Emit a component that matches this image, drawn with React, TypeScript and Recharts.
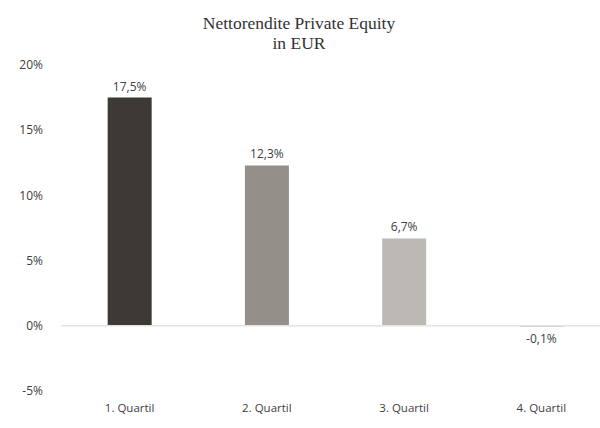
import React from 'react';
import { BarChart, Bar, XAxis, YAxis, Cell, LabelList, ReferenceLine } from 'recharts';

const categories = ['1. Quartil', '2. Quartil', '3. Quartil', '4. Quartil'];
const returns = [17.5, 12.3, 6.7, -0.1];
const barColors = ['#3d3935', '#958f8a', '#bcb8b4', '#c9c6c3'];
const yTicks = [-5, 0, 5, 10, 15, 20];
const titleLines = ['Nettorendite Private Equity', 'in EUR'];

const data = categories.map((c, i) => ({ name: c, value: returns[i] }));

const fmtLabel = (v: any) => `${Number(v).toFixed(1).replace('.', ',')}%`;
const fmtTick = (v: any) => `${v}%`;

export default function App() {
  return (
    <div style={{ position: 'absolute', left: 0, top: 0, width: 600, height: 428, background: '#fff' }}>
      <BarChart
        width={600}
        height={428}
        data={data}
        margin={{ top: 65, right: 0, bottom: 7, left: 0 }}
        barCategoryGap="34%"
      >
        <text x={299} y={29} textAnchor="middle" fontFamily="Liberation Serif, serif" fontSize={17.5} fill="#333333">
          {titleLines[0]}
        </text>
        <text x={299} y={49} textAnchor="middle" fontFamily="Liberation Serif, serif" fontSize={17.5} fill="#333333">
          {titleLines[1]}
        </text>
        <XAxis
          dataKey="name"
          height={30}
          axisLine={false}
          tickLine={false}
          tickSize={0}
          tickMargin={13}
          padding={{ left: 0, right: -10 }}
          tick={{ fontFamily: 'Open Sans', fontSize: 11.5, fill: '#404040' }}
          interval={0}
        />
        <YAxis
          width={61}
          domain={[-5, 20]}
          ticks={yTicks}
          axisLine={false}
          tickLine={false}
          tickSize={0}
          tickMargin={18}
          tickFormatter={fmtTick}
          tick={{ fontFamily: 'Open Sans', fontSize: 12, fill: '#404040' }}
          interval={0}
        />
        <ReferenceLine y={0} stroke="#e3e3e3" strokeWidth={1.5} />
        <Bar dataKey="value" isAnimationActive={false}>
          {data.map((d, i) => (
            <Cell key={d.name} fill={barColors[i]} />
          ))}
          <LabelList
            dataKey="value"
            position="top"
            offset={7}
            formatter={fmtLabel}
            style={{ fontFamily: 'Open Sans', fontSize: 12, fill: '#404040' }}
          />
        </Bar>
      </BarChart>
    </div>
  );
}
